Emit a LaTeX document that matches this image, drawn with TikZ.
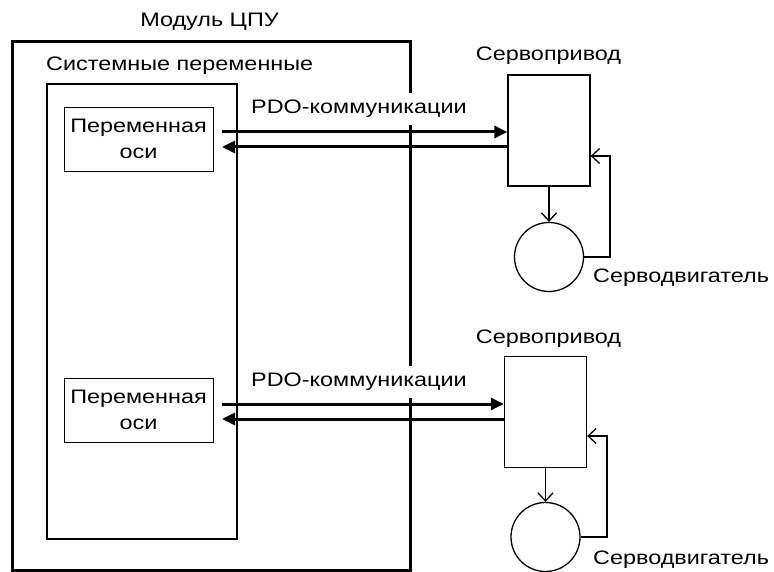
\documentclass[tikz,border=0pt]{standalone}
\usepackage{fontspec}
\setmainfont[FakeStretch=1.2]{Liberation Sans}
\usetikzlibrary{arrows.meta}
\begin{document}
\begin{tikzpicture}[x=1pt,y=-1pt,
  font=\fontsize{19.5}{23}\selectfont,
  thickbox/.style={draw,line width=3pt},
  thinbox/.style={draw,line width=1.3pt},
  varbox/.style={draw,line width=0.9pt,minimum width=149pt,minimum height=64pt,align=center,inner sep=0pt,font=\fontsize{19.5}{26}\selectfont},
  drivebox/.style={draw,line width=1.3pt,minimum width=82pt,minimum height=111pt,inner sep=0pt},
  motor/.style={draw,line width=1.3pt,circle,minimum size=69pt,inner sep=0pt},
  buslink/.style={line width=3pt,-{Triangle[length=13pt,width=12pt]}},
  sig/.style={line width=1.3pt,-{Straight Barb[length=8pt,width=15pt,line width=1.3pt]}},
  txt/.style={inner sep=0pt},
  pdo/.style={fill=white,inner xsep=2pt,minimum height=32pt,anchor=west}]
\useasboundingbox (0,0) rectangle (774,572);

% CPU module frame and its variables
\node[txt,anchor=base] (cpu) at (209.5,27) {Модуль ЦПУ};
\draw[thickbox] (12,42) rectangle (410,570);
\node[txt,anchor=base west] (sysvar) at (46,71) {Системные переменные};
\draw[thinbox] (47,84) rectangle (237,539);
\node[varbox] (var1) at (138.5,139) {Переменная\\оси};
\node[varbox] (var2) at (138.5,410) {Переменная\\оси};

% servo drives and motors
\node[drivebox] (drv1) at (549,130.5) {};
\node[drivebox] (drv2) at (545.5,412) {};
\node[txt,anchor=base] (drv1lbl) at (548.5,61) {Сервопривод};
\node[txt,anchor=base] (drv2lbl) at (548.5,343) {Сервопривод};
\node[motor] (mot1) at (549,257) {};
\node[motor] (mot2) at (545.5,537) {};
\node[txt,anchor=base west] (mot1lbl) at (593,283) {Серводвигатель};
\node[txt,anchor=base west] (mot2lbl) at (593,564) {Серводвигатель};

% PDO labels (white backing interrupts the frame edge)
\node[pdo] (pdo1) at (249,109) {PDO-коммуникации};
\node[pdo] (pdo2) at (249,382) {PDO-коммуникации};

% PDO exchange
\coordinate (tx1) at (222,132);
\coordinate (rx1) at (222,147);
\coordinate (tx2) at (222,404);
\coordinate (rx2) at (222,419);
\draw[buslink] (tx1) -- (tx1 -| drv1.west);
\draw[buslink] (rx1 -| drv1.west) -- (rx1);
\draw[buslink] (tx2) -- (tx2 -| drv2.west);
\draw[buslink] (rx2 -| drv2.west) -- (rx2);

% drive to motor and feedback loops
\coordinate (fb1) at (610,156);
\coordinate (fb2) at (607,436);
\draw[sig] (drv1.south) -- (mot1.north);
\draw[sig] (drv2.south) -- (mot2.north);
\draw[sig] (mot1.east) -- (mot1.east -| fb1) -- (fb1) -- (fb1 -| drv1.east);
\draw[sig] (mot2.east) -- (mot2.east -| fb2) -- (fb2) -- (fb2 -| drv2.east);
\end{tikzpicture}
\end{document}
